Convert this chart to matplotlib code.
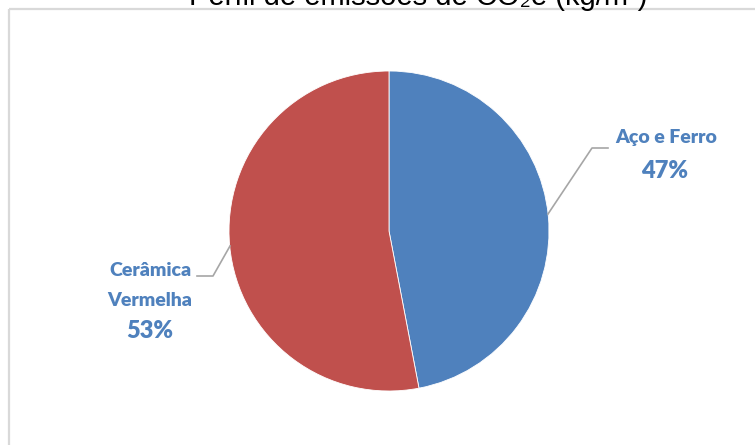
import matplotlib
matplotlib.use("Agg")
import matplotlib.pyplot as plt
from matplotlib.patches import Rectangle

# data
labels = ["Aço e Ferro", "Cerâmica\nVermelha"]
values = [47, 53]
colors = ["#4F81BD", "#C0504D"]
title = "Perfil de emissões de CO₂e (kg/m²)"

W, H = 755, 445
fig = plt.figure(figsize=(W / 100, H / 100), dpi=100)

# pie axes, square in pixels
ax = fig.add_axes([229 / W, 54 / H, 320 / W, 320 / H])
ax.pie(values, colors=colors, startangle=90, counterclock=False,
       wedgeprops=dict(edgecolor="white", linewidth=0.6))
ax.set_xlim(-1, 1)
ax.set_ylim(-1, 1)

# overlay in pixel coords for frame, leader lines and labels
ov = fig.add_axes([0, 0, 1, 1], zorder=5)
ov.set_xlim(0, W)
ov.set_ylim(H, 0)
ov.axis("off")
ov.patch.set_alpha(0)

ov.add_patch(Rectangle((9, 9), 800, 500, fill=False, edgecolor="#d9d9d9", linewidth=1.6))

# title sits partly above the top edge, as in the source image
ov.text(418, 5, title, ha="center", va="baseline", fontsize=21,
        family=["Liberation Sans", "DejaVu Sans"], color="black")

# leader lines
ov.plot([548, 592, 608], [214, 148, 148], color="#a6a6a6", lw=1.2)
ov.plot([230, 213, 197], [246, 276, 276], color="#a6a6a6", lw=1.2)

lab_font = dict(family=["Lato", "DejaVu Sans"], weight="heavy", color="#4F81BD")
ov.text(666, 138, labels[0], ha="center", va="center", fontsize=14, **lab_font)
ov.text(665, 171, f"{values[0]}%", ha="center", va="center", fontsize=17, **lab_font)
l1, l2 = labels[1].split("\n")
ov.text(150, 270, l1, ha="center", va="center", fontsize=14, **lab_font)
ov.text(150, 300, l2, ha="center", va="center", fontsize=14, **lab_font)
ov.text(150, 331, f"{values[1]}%", ha="center", va="center", fontsize=17, **lab_font)

fig.savefig("out.png", dpi=100)
